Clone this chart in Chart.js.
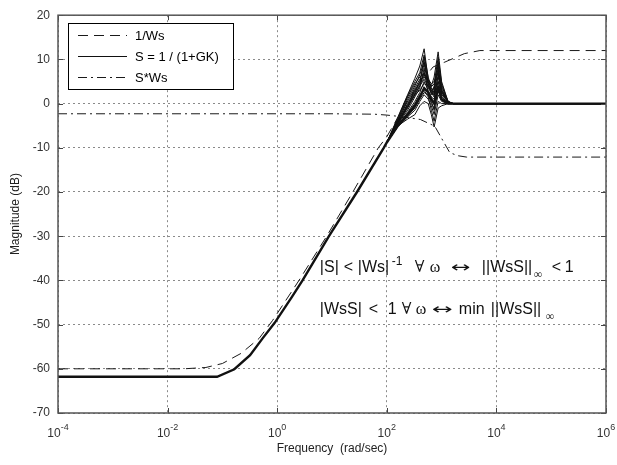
<!DOCTYPE html>
<html>
<head>
<meta charset="utf-8">
<script src="https://cdn.jsdelivr.net/npm/chart.js@4.4.0/dist/chart.umd.min.js"></script>
<style>
  html, body { margin: 0; padding: 0; background: #fff; }
</style>
</head>
<body>
<canvas id="bode" width="617" height="465"></canvas>
<script>
// axis ticks
const xTicks = [1e-4, 1e-2, 1e0, 1e2, 1e4, 1e6];
const xTickExp = ['-4', '-2', '0', '2', '4', '6'];
const yTicks = [-70, -60, -50, -40, -30, -20, -10, 0, 10, 20];

// 1/Ws  (dashed)
const freqInvWs = [1e-4, 0.02, 0.05, 0.1, 0.22, 0.47, 0.82, 2.5, 8, 24, 70, 100, 200, 320, 700, 1150, 2600, 5000, 1e6];
const magInvWs  = [-60, -60, -59.7, -58.8, -56.5, -53.1, -49.1, -40, -30, -20, -10, -7.5, -1, 3, 8.3, 9.4, 11.3, 12, 12];

// S*Ws  (dash-dot)
const freqSWs = [1e-4, 10, 60, 100, 200, 410, 750, 1070, 1410, 2000, 2860, 1e6];
const magSWs  = [-2.3, -2.3, -2.4, -2.6, -3.0, -3.6, -5.1, -8.5, -11.1, -11.8, -12.1, -12.1];

// S = 1/(1+GK), common low-frequency part
const freqSLow = [1e-4, 0.08, 0.165, 0.32, 0.55, 0.9, 1.82, 2.9, 8.8, 28.6, 88, 100];
const magSLow  = [-61.8, -61.8, -60.1, -56.9, -53, -49.6, -43.9, -40, -30, -20, -10, -8.8];

// S family around the crossover (one row per plant case)
const freqPeak = [100, 160, 240, 325, 400, 480, 570, 650, 730, 865, 1000, 1320, 1620, 1e6];
const magPeak = [
  [-8.8, -3.0,  2.0,  5.7,  8.5, 12.4,  5.5,  3.0,  2.0,  4.0,  2.0, 0.5, 0, 0],
  [-8.8, -3.5,  1.5,  4.5,  6.0,  7.0,  5.0,  4.0,  6.0, 11.7,  5.0, 0.3, 0, 0],
  [-8.8, -5.0, -3.5, -2.5, -0.5,  0.5,  0.0, -2.5, -5.3, -1.0, -0.5, 0.0, 0, 0],
  [-8.8, -4.0,  0.0,  3.0,  5.0,  9.0,  4.0,  3.0,  3.5,  8.0,  3.0, 0.5, 0, 0],
  [-8.8, -4.5, -1.0,  2.0,  4.0,  7.0,  3.5,  2.5,  2.0,  6.0,  2.5, 0.3, 0, 0],
  [-8.8, -4.8, -2.0,  0.5,  2.5,  5.0,  3.0,  1.5,  1.0,  5.0,  1.5, 0.2, 0, 0],
  [-8.8, -5.0, -2.5, -0.5,  1.5,  3.5,  2.5,  1.0,  0.0,  3.5,  1.0, 0.0, 0, 0],
  [-8.8, -4.2, -0.5,  2.5,  4.5, 10.5,  4.5,  2.0,  4.0,  9.5,  4.0, 0.4, 0, 0],
  [-8.8, -3.8,  0.5,  3.5,  5.5,  6.0,  5.5,  4.5,  5.0,  7.0,  3.5, 0.3, 0, 0],
  [-8.8, -5.2, -3.0, -1.5,  0.5,  2.0,  1.0, -0.5, -2.5,  2.0,  0.5, 0.0, 0, 0],
  [-8.8, -4.6, -1.5,  1.5,  3.5,  8.0,  2.0,  0.0, -1.0,  4.0,  1.0, 0.2, 0, 0],
  [-8.8, -4.4, -0.8,  2.0,  3.0,  4.5,  4.0,  3.5,  3.0,  9.0,  2.0, 0.3, 0, 0],
  [-8.8, -3.2,  1.8,  5.0,  7.0, 11.0,  6.0,  3.5,  2.5,  5.0,  2.5, 0.4, 0, 0],
  [-8.8, -4.1, -0.2,  2.8,  4.8,  6.5,  4.8,  3.8,  4.5, 10.5,  4.5, 0.4, 0, 0],
  [-8.8, -4.9, -2.2,  0.0,  2.0,  3.0,  1.5, -1.5, -4.0,  0.5,  0.0, 0.0, 0, 0],
  [-8.8, -4.3, -0.6,  2.2,  4.0,  5.5,  3.8,  2.8,  2.5,  7.5,  2.8, 0.3, 0, 0],
  [-8.8, -3.6,  1.0,  4.0,  6.5,  9.5,  5.0,  2.5,  1.5,  6.5,  3.0, 0.4, 0, 0],
  [-8.8, -5.1, -2.8, -1.0,  1.0,  2.5,  2.0,  0.5, -1.5,  3.0,  0.8, 0.0, 0, 0]
];

const FONT = "'Liberation Sans', Arial, sans-serif";
const SYM = "'Liberation Serif', 'DejaVu Serif', serif";
const ARROW = "'DejaVu Sans', sans-serif";

function pts(fs, ms) {
  return fs.map((f, i) => ({ x: f, y: ms[i] }));
}

const datasets = [
  {
    label: '1/Ws',
    data: pts(freqInvWs, magInvWs),
    borderColor: '#1a1a1a', borderWidth: 1, borderDash: [10, 6]
  },
  {
    label: 'S = 1 / (1+GK)',
    data: pts(freqSLow.concat(freqPeak.slice(1)), magSLow.concat(magPeak[6].slice(1))),
    borderColor: '#111', borderWidth: 2.4, legendWidth: 1
  },
  {
    label: 'S*Ws',
    data: pts(freqSWs, magSWs),
    borderColor: '#1a1a1a', borderWidth: 1, borderDash: [9, 4, 2, 4]
  }
];
magPeak.forEach(row => {
  datasets.push({
    label: '',
    data: pts(freqPeak, row),
    borderColor: '#111', borderWidth: 1
  });
});

// Box, inner tick marks, x labels with exponents, legend and the two notes
const frame = {
  id: 'frame',
  afterDraw(chart) {
    const { ctx, chartArea: a, scales: { x, y } } = chart;
    ctx.save();

    ctx.strokeStyle = '#444';
    ctx.lineWidth = 1;
    ctx.setLineDash([]);
    xTicks.forEach(v => {
      const px = Math.round(x.getPixelForValue(v)) + 0.5;
      ctx.beginPath();
      ctx.moveTo(px, a.bottom); ctx.lineTo(px, a.bottom - 5);
      ctx.moveTo(px, a.top); ctx.lineTo(px, a.top + 5);
      ctx.stroke();
    });
    yTicks.forEach(v => {
      const py = Math.round(y.getPixelForValue(v)) + 0.5;
      ctx.beginPath();
      ctx.moveTo(a.left, py); ctx.lineTo(a.left + 5, py);
      ctx.moveTo(a.right, py); ctx.lineTo(a.right - 5, py);
      ctx.stroke();
    });

    ctx.strokeStyle = '#555';
    ctx.lineWidth = 1.5;
    ctx.strokeRect(a.left, a.top, a.right - a.left, a.bottom - a.top);

    // x tick labels 10^n
    ctx.fillStyle = '#333';
    ctx.textBaseline = 'alphabetic';
    ctx.textAlign = 'left';
    xTicks.forEach((v, i) => {
      const px = x.getPixelForValue(v);
      ctx.font = '12px ' + FONT;
      const w1 = ctx.measureText('10').width;
      ctx.font = '9px ' + FONT;
      const w2 = ctx.measureText(xTickExp[i]).width;
      const left = px - (w1 + w2) / 2;
      ctx.font = '12px ' + FONT;
      ctx.fillText('10', left, a.bottom + 24);
      ctx.font = '9px ' + FONT;
      ctx.fillText(xTickExp[i], left + w1, a.bottom + 17);
    });

    // legend
    const lx = 68, ly = 23, lw = 165, lh = 66;
    ctx.fillStyle = '#fff';
    ctx.fillRect(lx, ly, lw, lh);
    ctx.strokeStyle = '#000';
    ctx.lineWidth = 1;
    ctx.strokeRect(lx + 0.5, ly + 0.5, lw, lh);
    const rows = [35, 56, 77];
    chart.data.datasets.filter(d => d.label).forEach((d, i) => {
      const ry = rows[i] + 0.5;
      ctx.strokeStyle = d.borderColor;
      ctx.lineWidth = d.legendWidth || d.borderWidth;
      ctx.setLineDash(d.borderDash || []);
      ctx.beginPath();
      ctx.moveTo(lx + 10, ry); ctx.lineTo(lx + 59, ry);
      ctx.stroke();
      ctx.setLineDash([]);
      ctx.fillStyle = '#000';
      ctx.font = '13px ' + FONT;
      ctx.textBaseline = 'middle';
      ctx.fillText(d.label, lx + 67, rows[i] + 1);
    });

    // notes
    ctx.textBaseline = 'alphabetic';
    ctx.fillStyle = '#111';
    const note = (f, dB, parts) => {
      const x0 = x.getPixelForValue(f);
      const y0 = y.getPixelForValue(dB);
      parts.forEach(p => {
        ctx.font = p[3];
        ctx.save();
        ctx.translate(x0 + p[1], y0 + p[2]);
        if (p[4]) ctx.scale(p[4], 1);
        ctx.fillText(p[0], 0, 0);
        ctx.restore();
      });
    };
    const big = '16px ' + FONT, sup = '12px ' + FONT, sym = '16px ' + SYM,
          sub = '12px ' + SYM, arr = '15px ' + ARROW;
    note(6, -38.1, [
      ['|S|', 0, 0, big],
      ['<', 24, 0, big],
      ['|Ws|', 38, 0, big],
      ['-1', 72, -7, sup],
      ['\u2200', 95, 0, sym],
      ['\u03c9', 110, 0, sym],
      ['\u2194', 131, 0, arr, 1.55],
      ['||WsS||', 162, 0, big],
      ['\u221e', 214, 6, sub],
      ['<', 232, 0, big],
      ['1', 245, 0, big]
    ]);
    note(6, -47.7, [
      ['|WsS|', 0, 0, big],
      ['<', 49, 0, big],
      ['1', 68, 0, big],
      ['\u2200', 82, 0, sym],
      ['\u03c9', 96, 0, sym],
      ['\u2194', 112, 0, arr, 1.65],
      ['min', 139, 0, big],
      ['||WsS||', 171, 0, big],
      ['\u221e', 226, 6, sub]
    ]);

    ctx.restore();
  }
};

new Chart(document.getElementById('bode'), {
  type: 'scatter',
  data: { datasets },
  options: {
    responsive: false,
    animation: false,
    devicePixelRatio: 1,
    showLine: true,
    elements: {
      point: { radius: 0, hoverRadius: 0 },
      line: { tension: 0, borderCapStyle: 'butt' }
    },
    layout: { padding: { left: 0, right: 11, top: 11, bottom: 0 } },
    plugins: { legend: { display: false }, tooltip: { enabled: false } },
    scales: {
      x: {
        type: 'logarithmic',
        min: 1e-4,
        max: 1e6,
        afterBuildTicks: s => { s.ticks = xTicks.map(v => ({ value: v })); },
        afterFit: s => { s.height = 52; },
        ticks: { display: false },
        grid: { color: '#8a8a8a', lineWidth: 1, drawTicks: false },
        border: { display: false, dash: [2, 3] },
        title: {
          display: true,
          text: 'Frequency  (rad/sec)',
          color: '#222',
          font: { family: FONT, size: 12 },
          padding: { top: 0, bottom: 9 }
        }
      },
      y: {
        min: -70,
        max: 20,
        afterFit: s => { s.width = 58; },
        ticks: {
          stepSize: 10,
          color: '#333',
          padding: 8,
          font: { family: FONT, size: 12 }
        },
        grid: { color: '#8a8a8a', lineWidth: 1, drawTicks: false },
        border: { display: false, dash: [2, 3] },
        title: {
          display: true,
          text: 'Magnitude (dB)',
          color: '#222',
          font: { family: FONT, size: 12 },
          padding: { top: 8, bottom: 0 }
        }
      }
    }
  },
  plugins: [frame]
});
</script>
</body>
</html>
